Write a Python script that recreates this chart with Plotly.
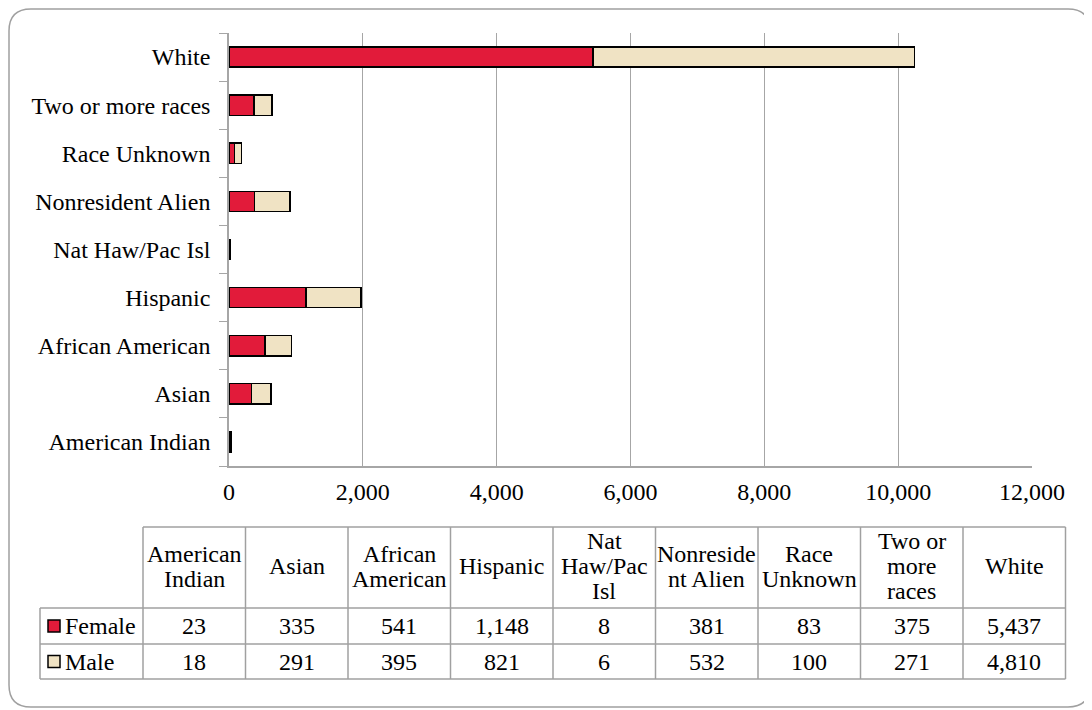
import plotly.graph_objects as go

categories = ["American Indian", "Asian", "African American", "Hispanic",
              "Nat Haw/Pac Isl", "Nonresident Alien", "Race Unknown",
              "Two or more races", "White"]
table_headers = ["American<br>Indian", "Asian", "African<br>American", "Hispanic",
                 "Nat<br>Haw/Pac<br>Isl", "Nonreside<br>nt Alien", "Race<br>Unknown",
                 "Two or<br>more<br>races", "White"]
female = [23, 335, 541, 1148, 8, 381, 83, 375, 5437]
male = [18, 291, 395, 821, 6, 532, 100, 271, 4810]
series_names = ["Female", "Male"]
x_ticks = [0, 2000, 4000, 6000, 8000, 10000, 12000]

RED = "#E21B3A"
BEIGE = "#F0E3C4"
GRID = "#A6A6A6"
FONT = "Liberation Serif, Times New Roman, serif"
FS = 24

OFF = 8                      # browser body margin
W, H = 1092 - OFF, 710 - OFF
L, R, T, B = 229, 1032, 33, 466   # plot area in screen pixels


def X(px):
    return (px - L) / (R - L)


def Y(py):
    return (B - py) / (B - T)


fig = go.Figure()
fig.add_trace(go.Bar(y=categories, x=female, name="Female", orientation="h",
                     marker=dict(color=RED, line=dict(color="black", width=1.5))))
fig.add_trace(go.Bar(y=categories, x=male, name="Male", orientation="h",
                     marker=dict(color=BEIGE, line=dict(color="black", width=1.5))))

shapes = []
annotations = []

# Rounded border around the whole chart
bx0, bx1, by0, by1, rr = 9, 1090, 9, 707, 22
path = (f"M {X(bx0 + rr)},{Y(by0)} L {X(bx1 - rr)},{Y(by0)} "
        f"Q {X(bx1)},{Y(by0)} {X(bx1)},{Y(by0 + rr)} "
        f"L {X(bx1)},{Y(by1 - rr)} Q {X(bx1)},{Y(by1)} {X(bx1 - rr)},{Y(by1)} "
        f"L {X(bx0 + rr)},{Y(by1)} Q {X(bx0)},{Y(by1)} {X(bx0)},{Y(by1 - rr)} "
        f"L {X(bx0)},{Y(by0 + rr)} Q {X(bx0)},{Y(by0)} {X(bx0 + rr)},{Y(by0)} Z")
shapes.append(dict(type="path", path=path, xref="paper", yref="paper",
                   line=dict(color="#A0A0A0", width=1.5), layer="below"))

# Data table
col0 = 143.0
colw = 102.5
ncol = len(table_headers)
col_right = col0 + ncol * colw
rh_left = 40
row_top, row_h1, row_f, row_m = 527, 608, 644, 679
TL = dict(color="#A0A0A0", width=1.5)
LINE_H = 25


def hline(x0, x1, y):
    shapes.append(dict(type="line", xref="paper", yref="paper", x0=X(x0), x1=X(x1),
                       y0=Y(y), y1=Y(y), line=TL))


def vline(x, y0, y1):
    shapes.append(dict(type="line", xref="paper", yref="paper", x0=X(x), x1=X(x),
                       y0=Y(y0), y1=Y(y1), line=TL))


def text(x, y, s, anchor="center"):
    annotations.append(dict(x=X(x), y=Y(y), xref="paper", yref="paper", text=s,
                            showarrow=False, xanchor=anchor, yanchor="middle",
                            font=dict(family=FONT, size=FS, color="black")))


hline(col0, col_right, row_top)
hline(rh_left, col_right, row_h1)
hline(rh_left, col_right, row_f)
hline(rh_left, col_right, row_m)
vline(rh_left, row_h1, row_m)
for i in range(ncol + 1):
    vline(col0 + i * colw, row_top, row_m)

for i, hdr in enumerate(table_headers):
    cx = col0 + (i + 0.5) * colw
    lines = hdr.split("<br>")
    mid = (row_top + row_h1) / 2 - 1.5
    for j, ln in enumerate(lines):
        text(cx, mid + (j - (len(lines) - 1) / 2) * LINE_H, ln)
    text(cx, (row_h1 + row_f) / 2, f"{female[i]:,}")
    text(cx, (row_f + row_m) / 2, f"{male[i]:,}")

for name, color, (ya, yb) in ((series_names[0], RED, (row_h1, row_f)),
                              (series_names[1], BEIGE, (row_f, row_m))):
    cy = (ya + yb) / 2
    shapes.append(dict(type="rect", xref="paper", yref="paper", x0=X(48), x1=X(60),
                       y0=Y(cy - 6), y1=Y(cy + 6), fillcolor=color,
                       line=dict(color="black", width=1.5)))
    text(63, cy, name, anchor="left")

fig.update_layout(
    barmode="stack",
    bargap=0.58,
    width=W, height=H,
    margin=dict(l=L - OFF, r=W - (R - OFF), t=T - OFF, b=H - (B - OFF), pad=0),
    paper_bgcolor="white",
    plot_bgcolor="white",
    showlegend=False,
    font=dict(family=FONT, size=FS, color="black"),
    shapes=shapes,
    annotations=annotations,
    xaxis=dict(range=[0, 12000], tickvals=x_ticks,
               ticktext=[f"{v:,}" for v in x_ticks],
               showgrid=True, gridcolor=GRID, gridwidth=1,
               showline=True, linecolor=GRID, linewidth=1.5,
               zeroline=False, ticks="", tickfont=dict(family=FONT, size=FS),
               ticklabelstandoff=3, fixedrange=True),
    yaxis=dict(type="category", categoryorder="array", categoryarray=categories,
               showline=True, linecolor=GRID, linewidth=1.5,
               ticks="outside", tickson="boundaries", ticklen=8, tickcolor=GRID,
               showgrid=False, tickfont=dict(family=FONT, size=FS),
               ticklabelstandoff=12, fixedrange=True),
)

fig.write_html("out.html")
